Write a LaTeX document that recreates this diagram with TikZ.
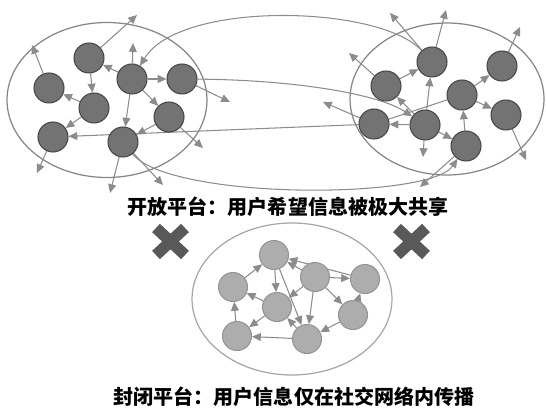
\documentclass[tikz,border=0pt]{standalone}
\usepackage{fontspec}
\usetikzlibrary{arrows.meta,backgrounds}
\newfontfamily\cjk{Noto Sans CJK SC}

\begin{document}
\begin{tikzpicture}[x=0.02cm, y=-0.02cm,
        opennode/.style={circle, draw=black!72, fill=black!55, line width=0.6pt, minimum size=0.6cm, inner sep=0pt},
        closednode/.style={circle, draw=black!42, fill=black!32, line width=0.6pt, minimum size=0.58cm, inner sep=0pt},
        arrowline/.style={draw=black!45, line width=0.6pt, -{Triangle[length=5pt,width=4.5pt]}},
        ring/.style={draw=black!48, line width=0.7pt},
        titletext/.style={font=\cjk\bfseries\fontsize{11.4}{13}\selectfont}]
                \useasboundingbox (0,0) rectangle (546,408);

                % open platform, left group
                \node[opennode] (L1) at (89,58) {};
                \node[opennode] (L2) at (49,88) {};
                \node[opennode] (L3) at (132,79) {};
                \node[opennode] (L4) at (182,79) {};
                \node[opennode] (L5) at (94,108) {};
                \node[opennode] (L6) at (169,117) {};
                \node[opennode] (L7) at (53,137) {};
                \node[opennode] (L8) at (123,142) {};

                % open platform, right group
                \node[opennode] (R1) at (432,62) {};
                \node[opennode] (R2) at (386,86) {};
                \node[opennode] (R3) at (502,66) {};
                \node[opennode] (R4) at (462,95) {};
                \node[opennode] (R5) at (374,124) {};
                \node[opennode] (R6) at (425,125) {};
                \node[opennode] (R7) at (506,115) {};
                \node[opennode] (R8) at (466,146) {};

                % closed platform
                \node[closednode] (C1) at (274,255) {};
                \node[closednode] (C2) at (233,287) {};
                \node[closednode] (C3) at (315,277) {};
                \node[closednode] (C4) at (365,279) {};
                \node[closednode] (C5) at (277,307) {};
                \node[closednode] (C6) at (353,315) {};
                \node[closednode] (C7) at (237,336) {};
                \node[closednode] (C8) at (307,339) {};

                % free ends of the outgoing arrows
                \coordinate (l1) at (137,15);
                \coordinate (l2) at (32,45);
                \coordinate (l3) at (133,43);
                \coordinate (l4) at (230,102);
                \coordinate (l6) at (203,148);
                \coordinate (l7) at (37,173);
                \coordinate (l8a) at (110,193);
                \coordinate (l8b) at (163,185);
                \coordinate (r1a) at (390,13);
                \coordinate (r1b) at (446,10);
                \coordinate (r2) at (349,53);
                \coordinate (r3) at (520,27);
                \coordinate (r5) at (323,102);
                \coordinate (r6) at (423,157);
                \coordinate (r7) at (526,160);
                \coordinate (r8) at (420,187);

                \node[titletext] (opentext) at (288,207) {开放平台：用户希望信息被极大共享};
                \node[titletext] (closedtext) at (294,397) {封闭平台：用户信息仅在社交网络内传播};

                \draw[black!65, line width=6.5pt] (156,228) -- (185,255) (156,255) -- (185,228);
                \draw[black!65, line width=6.5pt] (397,228) -- (426,255) (397,255) -- (426,228);

                \begin{scope}[on background layer]
                \draw[ring] (107,100) ellipse [x radius=2cm, y radius=1.55cm];
                \draw[ring] (447,99) ellipse [x radius=1.94cm, y radius=1.52cm];
                \draw[ring, draw=black!35] (292,299) ellipse [x radius=2cm, y radius=1.52cm];

                \draw[arrowline] (L1) -- (L5);
                \draw[arrowline] (L3) -- (L1);
                \draw[arrowline] (L3) -- (L4);
                \draw[arrowline] (L3) -- (L6);
                \draw[arrowline] (L3) -- (L8);
                \draw[arrowline] (L5) -- (L2);
                \draw[arrowline] (L5) -- (L7);
                \draw[arrowline] (L6) -- (L8);
                \draw[arrowline] (L1) -- (l1);
                \draw[arrowline] (L2) -- (l2);
                \draw[arrowline] (L3) -- (l3);
                \draw[arrowline] (L4) -- (l4);
                \draw[arrowline] (L6) -- (l6);
                \draw[arrowline] (L7) -- (l7);
                \draw[arrowline] (L8) -- (l8a);
                \draw[arrowline] (L8) -- (l8b);

                \draw[arrowline] (R2) -- (R1);
                \draw[arrowline] (R6) -- (R1);
                \draw[arrowline] (R4) -- (R3);
                \draw[arrowline] (R4) -- (R7);
                \draw[arrowline] (R8) -- (R4);
                \draw[arrowline] (R6) -- (R8);
                \draw[arrowline] (R6) -- (R5);
                \draw[arrowline] (R6) -- (R2);
                \draw[arrowline] (R1) -- (r1a);
                \draw[arrowline] (R1) -- (r1b);
                \draw[arrowline] (R2) -- (r2);
                \draw[arrowline] (R3) -- (r3);
                \draw[arrowline] (R5) -- (r5);
                \draw[arrowline] (R6) -- (r6);
                \draw[arrowline] (R7) -- (r7);
                \draw[arrowline] (R8) -- (r8);

                % links between the two groups
                \draw[arrowline] (R1) .. controls (380,5) and (180,0) .. (L3);
                \draw[arrowline] (L8) .. controls (170,200) and (430,200) .. (R8);
                \draw[arrowline] (L4) .. controls (300,80) and (380,95) .. (R6);
                \draw[arrowline] (R4) -- (R5.center) -- (L7);

                \draw[arrowline] (C2) -- (C1);
                \draw[arrowline] (C4) -- (C1);
                \draw[arrowline] (C3) -- (C1);
                \draw[arrowline] (C1) -- (C5);
                \draw[arrowline] (C1) -- (C8);
                \draw[arrowline] (C3) -- (C4);
                \draw[arrowline] (C3) -- (C5);
                \draw[arrowline] (C3) -- (C8);
                \draw[arrowline] (C3) -- (C6);
                \draw[arrowline] (C6) -- (C4);
                \draw[arrowline] (C6) -- (C8);
                \draw[arrowline] (C5) -- (C2);
                \draw[arrowline] (C5) -- (C7);
                \draw[arrowline] (C8) -- (C5);
                \draw[arrowline] (C8) -- (C7);
                \draw[arrowline] (C7) -- (C2);
                \end{scope}
            \end{tikzpicture}
\end{document}
